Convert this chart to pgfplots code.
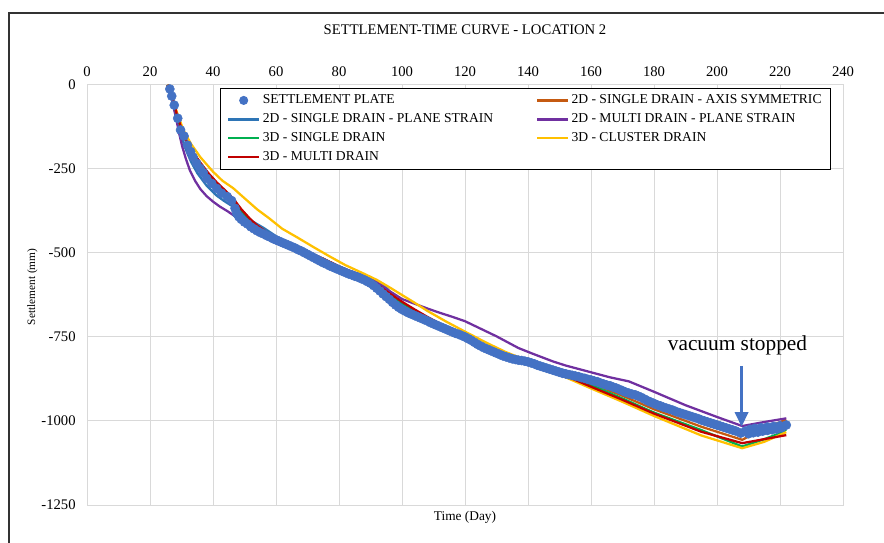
\documentclass[border=0pt]{standalone}
\usepackage{pgfplots}
\pgfplotsset{compat=1.18}
\usepackage{fontspec}
\setmainfont{Liberation Serif}
\usetikzlibrary{arrows.meta}
\definecolor{dotblue}{RGB}{68,114,196}
\definecolor{lineblue}{RGB}{46,117,182}
\definecolor{sorange}{RGB}{197,90,17}
\definecolor{spurple}{RGB}{112,48,160}
\definecolor{sgreen}{RGB}{0,176,80}
\definecolor{syellow}{RGB}{255,192,0}
\definecolor{sred}{RGB}{192,0,0}
\definecolor{gridgray}{RGB}{217,217,217}
\pgfplotsset{
  linelegend/.style={legend image code/.code={\draw[##1] (0pt,0pt) -- (23pt,0pt);}},
  dotlegend/.style={legend image code/.code={\draw[##1] plot coordinates {(11.5pt,0pt)};}},
  sline/.style={line width=1.7pt, no markers},
}
\begin{document}
\begin{tikzpicture}
\useasboundingbox (0,0) rectangle (663pt,406.5pt);
\draw[black!80, line width=1.1pt] (6.75pt,-2pt) -- (6.75pt,396.75pt) -- (670pt,396.75pt);
\begin{axis}[
  at={(65.25pt,27.75pt)}, anchor=south west,
  scale only axis, width=567pt, height=315pt,
  xmin=0, xmax=240, ymin=-1250, ymax=0,
  xtick={0,20,...,240}, ytick={-1250,-1000,-750,-500,-250,0},
  xticklabel pos=upper,
  major tick length=0pt,
  grid=major,
  major grid style={draw=gridgray, line width=0.75pt},
  axis line style={draw=gridgray, line width=0.75pt},
  /pgf/number format/assume math mode=true,
  /pgf/number format/1000 sep={},
  tick label style={font=\fontsize{11}{13}\selectfont},
  xticklabel style={yshift=3pt},
  yticklabel style={xshift=-5pt},
  title={SETTLEMENT-TIME CURVE - LOCATION 2},
  title style={font=\fontsize{11}{13}\selectfont, at={(axis description cs:0.5,1)}, anchor=center, yshift=35.5pt},
  xlabel={Time (Day)},
  xlabel style={font=\fontsize{10}{12}\selectfont, at={(axis description cs:0.5,0)}, anchor=center, yshift=-9pt},
  ylabel={Settlement (mm)},
  ylabel style={font=\fontsize{8.5}{10}\selectfont, at={(axis description cs:0,0.5)}, anchor=center, yshift=41pt, xshift=6pt},
  legend columns=2,
  legend cell align=left,
  legend style={at={(axis description cs:0.176,0.993)}, anchor=north west,
    draw=black, line width=0.75pt, fill=white,
    font=\fontsize{10.2}{12}\selectfont,
    nodes={inner ysep=1.5pt, text height=7pt, text depth=2pt},
    row sep=2.2pt, inner xsep=5pt, inner ysep=3pt,
    /tikz/every even column/.append style={column sep=30pt}},
]
\addlegendimage{dotlegend, only marks, mark=*, mark size=3pt, color=dotblue}
\addlegendentry{SETTLEMENT PLATE}
\addlegendimage{linelegend, line width=1.7pt, color=sorange}
\addlegendentry{2D - SINGLE DRAIN - AXIS SYMMETRIC}
\addlegendimage{linelegend, line width=1.7pt, color=lineblue}
\addlegendentry{2D - SINGLE DRAIN - PLANE STRAIN}
\addlegendimage{linelegend, line width=1.7pt, color=spurple}
\addlegendentry{2D - MULTI DRAIN - PLANE STRAIN}
\addlegendimage{linelegend, line width=1.7pt, color=sgreen}
\addlegendentry{3D - SINGLE DRAIN}
\addlegendimage{linelegend, line width=1.7pt, color=syellow}
\addlegendentry{3D - CLUSTER DRAIN}
\addlegendimage{linelegend, line width=1.7pt, color=sred}
\addlegendentry{3D - MULTI DRAIN}

% 2D single drain - axis symmetric
\addplot[sline, color=sorange, forget plot] coordinates {
(25.5,0) (26.5,-15) (27.5,-51) (28.5,-87) (30,-131) (31.6,-168) (33.5,-200) (35.9,-232) (38.5,-264) (41.2,-292) (44,-317) (46.4,-340) (49,-371) (51.7,-399) (54,-419) (57,-439) (60,-455) (64.4,-472) (70,-497) (75,-517) (80,-540) (85,-561) (90,-586) (93,-601) (96,-622) (100,-647) (104,-670) (108,-692) (112,-711) (120,-746) (125,-771) (130,-790) (135,-809) (140,-823) (150,-852) (160,-888) (170,-925) (180,-965) (195,-1017) (208,-1056) (215,-1022) (222,-996)};
% 2D single drain - plane strain
\addplot[sline, color=lineblue, forget plot] coordinates {
(25.5,0) (27,-45) (28.5,-100) (30,-155) (31.5,-195) (33,-228) (35,-262) (38,-300) (41,-328) (43.5,-345) (46,-360) (49,-382) (52,-403) (56,-425) (60,-450) (65,-475) (70,-498) (75,-520) (80,-543) (85,-560) (88,-568) (91,-578) (93,-588) (95,-603) (97,-625) (100,-658) (105,-683) (110,-705) (115,-725) (120,-748) (125,-775) (130,-795) (135,-810) (140,-820) (145,-832) (150,-845) (155,-858) (160,-870) (165,-885) (170,-902) (175,-922) (180,-943) (190,-975) (200,-1005) (208,-1028) (215,-1018) (222,-1008)};
% 2D multi drain - plane strain
\addplot[sline, color=spurple, forget plot] coordinates {
(25.5,0) (27,-45) (28.3,-100) (29.3,-146) (30.2,-182) (31.4,-220) (32.7,-255) (34.3,-285) (36,-310) (38,-331) (40,-347) (42.2,-362) (44.5,-375) (46.4,-387) (49.7,-412) (53.9,-441) (58,-462) (61.3,-476) (66,-492) (70,-508) (75,-525) (80,-542) (85,-558) (88,-568) (92,-586) (96,-613) (100,-637) (104,-651) (108,-665) (112,-678) (116,-690) (120,-703) (126,-730) (130,-748) (137,-783) (141,-798) (148,-823) (152,-835) (160,-855) (166,-870) (172,-882) (180,-913) (190,-953) (200,-988) (208,-1015) (215,-1003) (222,-992)};
% 3D single drain
\addplot[sline, color=sgreen, forget plot] coordinates {
(25.5,0) (26.5,-16) (27.5,-52) (28.5,-88) (30,-133) (31.6,-170) (33.5,-202) (35.9,-234) (38.5,-266) (41.2,-294) (44,-319) (46.4,-342) (49,-373) (51.7,-400) (54,-420) (57,-440) (60,-456) (64.4,-473) (70,-498) (75,-518) (80,-541) (85,-562) (90,-587) (93,-603) (96,-624) (100,-650) (104,-672) (108,-694) (112,-713) (120,-748) (125,-772) (130,-792) (135,-811) (140,-826) (150,-856) (160,-893) (170,-933) (180,-975) (195,-1027) (208,-1076) (215,-1054) (219,-1040) (222,-1025)};
% 3D cluster drain
\addplot[sline, color=syellow, forget plot] coordinates {
(25.5,0) (27,-35) (28.5,-80) (30.6,-134) (33,-175) (36,-215) (40,-258) (43,-285) (46.4,-307) (50,-337) (54,-370) (58,-398) (62,-428) (67,-455) (72,-483) (77,-510) (82,-536) (88,-562) (92,-580) (96,-602) (100,-625) (104,-648) (108,-672) (114,-704) (120,-734) (127,-768) (133,-795) (137,-810) (140,-822) (150,-862) (160,-903) (170,-943) (180,-985) (195,-1043) (208,-1081) (215,-1062) (222,-1033)};
% 3D multi drain
\addplot[sline, color=sred, forget plot] coordinates {
(25.5,0) (26.5,-15) (27.5,-50) (28.5,-86) (30,-130) (31.6,-166) (33.5,-198) (35.9,-230) (38.5,-262) (41.2,-290) (44,-315) (46.4,-338) (49,-370) (51.7,-398) (54,-418) (57,-438) (60,-455) (64.4,-472) (70,-497) (75,-517) (80,-540) (85,-560) (90,-585) (93,-600) (96,-620) (100,-645) (104,-668) (108,-690) (112,-710) (120,-745) (125,-770) (130,-790) (135,-810) (140,-826) (150,-858) (160,-898) (170,-937) (180,-978) (195,-1032) (208,-1066) (215,-1054) (222,-1042)};
% settlement plate
\addplot[only marks, mark=*, mark size=3.4pt, color=dotblue, forget plot] coordinates {
(26.3,-12) (26.9,-33) (27.7,-60) (28.8,-99) (29.7,-134) (30.8,-152) (31.9,-179) (32.9,-198) (33.7,-215) (34.8,-233) (35.9,-248) (36.9,-261) (38,-278) (39.6,-293) (41.2,-308) (42.7,-322) (44.5,-332) (45.9,-344) (47,-367) (47.5,-382) (48.2,-392) (49,-400) (50,-408) (51,-414) (52,-422) (53,-428) (54,-434) (55,-439) (56,-443) (57,-448) (58,-452) (59,-457) (60,-461) (61,-465) (62,-469) (63,-473) (64,-477) (65,-481) (66,-485) (67,-490) (68,-494) (69,-499) (70,-504) (71,-509) (72,-514) (73,-519) (74,-524) (75,-529) (76,-533) (77,-538) (78,-542) (79,-546) (80,-550) (81,-554) (82,-558) (83,-562) (84,-565) (85,-569) (86,-572) (87,-576) (88,-580) (89,-585) (90,-590) (91,-597) (92,-605) (93,-613) (94,-622) (95,-630) (96,-638) (97,-647) (98,-655) (99,-662) (100,-668) (101,-673) (102,-678) (103,-682) (104,-686) (105,-690) (106,-694) (107,-698) (108,-702) (109,-707) (110,-711) (111,-715) (112,-719) (113,-723) (114,-727) (115,-731) (116,-735) (117,-739) (118,-742) (119,-746) (120,-750) (121,-755) (122,-760) (123,-766) (124,-772) (125,-777) (126,-782) (127,-786) (128,-790) (129,-794) (130,-798) (131,-802) (132,-806) (133,-809) (134,-812) (135,-815) (136,-817) (137,-819) (138,-820) (139,-822) (140,-824) (141,-827) (142,-830) (143,-834) (144,-837) (145,-840) (146,-843) (147,-846) (148,-849) (149,-852) (150,-855) (151,-858) (152,-860) (153,-862) (154,-864) (155,-866) (156,-868) (157,-871) (158,-873) (159,-876) (160,-878) (161,-881) (162,-883) (163,-887) (164,-890) (165,-893) (166,-895) (167,-899) (168,-902) (169,-906) (170,-910) (171,-914) (172,-917) (173,-920) (174,-922) (175,-926) (176,-930) (177,-935) (178,-940) (179,-944) (180,-948) (181,-952) (182,-955) (183,-959) (184,-962) (185,-965) (186,-968) (187,-972) (188,-975) (189,-978) (190,-981) (191,-984) (192,-987) (193,-990) (194,-993) (195,-997) (196,-1000) (197,-1003) (198,-1006) (199,-1009) (200,-1012) (201,-1015) (202,-1018) (203,-1021) (204,-1024) (205,-1027) (206,-1030) (207.5,-1036) (209,-1030) (210.5,-1025) (212,-1022) (214,-1020) (216,-1018) (218,-1016) (220,-1014) (222,-1012) (210,-1038) (211.5,-1035) (213,-1033) (214.5,-1030) (216,-1028) (217.5,-1026) (219,-1024) (220.5,-1020)};

\node[font=\fontsize{16}{18}\selectfont] at (axis cs:206.5,-774) {vacuum stopped};
\draw[dotblue, line width=2pt, -{Triangle[width=10pt,length=11pt]}] (axis cs:207.8,-836) -- (axis cs:207.8,-1017);
\end{axis}
\end{tikzpicture}
\end{document}
